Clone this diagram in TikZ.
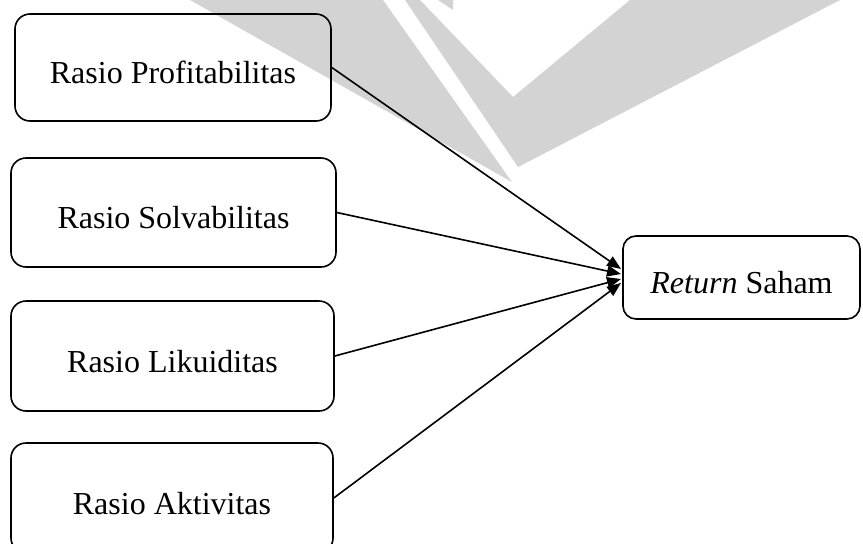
\documentclass[tikz,border=0pt]{standalone}
\usepackage{fontspec}
\setmainfont{Liberation Serif}
\usetikzlibrary{arrows.meta}
\definecolor{wmgrey}{RGB}{211,211,211}
\tikzset{
  box/.style={draw=black, line width=1.6pt, rounded corners=15pt, inner sep=0pt,
    font=\fontsize{32}{38}\selectfont, text height=32pt, text depth=0pt},
  link/.style={draw=black, line width=1.6pt, -{Triangle[length=14pt,width=11pt]}}
}
\begin{document}
\begin{tikzpicture}[x=1pt,y=-1pt]
\clip (0,0) rectangle (863,544);
\fill[white] (0,0) rectangle (863,544);
% watermark
\fill[wmgrey] (190,0) -- (383,0) -- (512,182) -- cycle;
\fill[wmgrey] (405,0) -- (420,0) -- (513,97) -- (630,0) -- (840,0) -- (518,167) -- cycle;
\fill[wmgrey] (438,0) -- (453,0) -- (453,10) -- cycle;
% boxes
\node[box, minimum width=316pt, minimum height=107pt] (b1) at (173,67.5) {Rasio Profitabilitas};
\node[box, minimum width=325pt, minimum height=109pt] (b2) at (173.5,212.5) {Rasio Solvabilitas};
\node[box, minimum width=323pt, minimum height=110pt] (b3) at (172.5,356) {Rasio Likuiditas};
\node[box, minimum width=322pt, minimum height=110pt] (b4) at (172,498) {Rasio Aktivitas};
\node[box, rounded corners=13pt, minimum width=237pt, minimum height=83pt] (ret) at (741.5,277.5) {\textit{Return} Saham};
% arrow targets
\coordinate (t1) at (621,269);
\coordinate (t2) at (621,274);
\coordinate (t3) at (621,279);
\coordinate (t4) at (621,283);
\draw[link] (b1.east) -- (t1);
\draw[link] (b2.east) -- (t2);
\draw[link] (b3.east) -- (t3);
\draw[link] (b4.east) -- (t4);
\end{tikzpicture}
\end{document}
